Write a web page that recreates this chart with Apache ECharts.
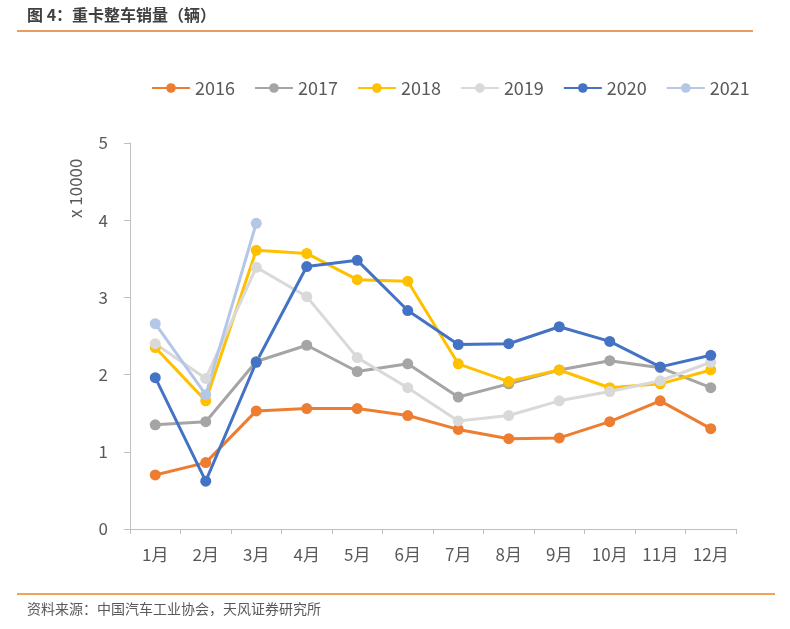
<!DOCTYPE html>
<html><head><meta charset="utf-8">
<script src="https://cdn.jsdelivr.net/npm/echarts@6/dist/echarts.min.js"></script>
<style>html,body{margin:0;padding:0;background:#fff}#c{width:790px;height:629px}</style>
</head><body><div id="c"></div>
<script>
const months = ['1月','2月','3月','4月','5月','6月','7月','8月','9月','10月','11月','12月'];
const s2016 = [0.70,0.86,1.53,1.56,1.56,1.47,1.29,1.17,1.18,1.39,1.66,1.30];
const s2017 = [1.35,1.39,2.17,2.38,2.04,2.14,1.71,1.88,2.06,2.18,2.09,1.83];
const s2018 = [2.35,1.66,3.61,3.57,3.23,3.21,2.14,1.91,2.06,1.83,1.88,2.06];
const s2019 = [2.40,1.95,3.39,3.01,2.22,1.83,1.40,1.47,1.66,1.78,1.92,2.16];
const s2020 = [1.96,0.62,2.16,3.40,3.48,2.83,2.39,2.40,2.62,2.43,2.10,2.25];
const s2021 = [2.66,1.74,3.96];
const seriesNames = ['2016','2017','2018','2019','2020','2021'];
const seriesData = [s2016,s2017,s2018,s2019,s2020,s2021];
const colors = ['#ED7D31','#A5A5A5','#FFC000','#D9D9D9','#4472C4','#B4C7E7'];

const chart = echarts.init(document.getElementById('c'));
const font = '"Noto Sans CJK SC", "Noto Sans", sans-serif';
chart.setOption({
  animation: false,
  color: colors,
  textStyle: {fontFamily: font},
  grid: {left: 130, right: 54, top: 143, bottom: 100, containLabel: false},
  legend: {
    top: 74, left: 146,
    itemWidth: 38, itemHeight: 12, itemGap: 19,
    textStyle: {fontSize: 18, color: '#595959', fontFamily: font},
    data: seriesNames
  },
  xAxis: {
    type: 'category', data: months, boundaryGap: true,
    axisLine: {lineStyle: {color: '#BFBFBF', width: 1}},
    axisTick: {show: true, length: 5, lineStyle: {color: '#BFBFBF'}},
    axisLabel: {fontSize: 17, color: '#595959', margin: 17}
  },
  yAxis: {
    type: 'value', min: 0, max: 5, interval: 1,
    axisLine: {show: true, lineStyle: {color: '#BFBFBF', width: 1}},
    axisTick: {show: true, length: 6, lineStyle: {color: '#BFBFBF'}},
    splitLine: {show: false},
    axisLabel: {fontSize: 17, color: '#595959', margin: 22}
  },
  graphic: [
    {type: 'text', left: 27, top: 7, style: {text: '图 4：重卡整车销量（辆）', font: 'bold 16px ' + font, fill: '#404040'}},
    {type: 'line', shape: {x1: 17, y1: 31, x2: 753, y2: 31}, style: {stroke: '#E07B2E', lineWidth: 1.5}},
    {type: 'line', shape: {x1: 17, y1: 594, x2: 775, y2: 594}, style: {stroke: '#F0801E', lineWidth: 1.5}},
    {type: 'text', left: 27, top: 602, style: {text: '资料来源：中国汽车工业协会，天风证券研究所', font: '14px ' + font, fill: '#595959'}},
    {type: 'text', x: 67, y: 218, rotation: Math.PI/2, style: {text: 'x 10000', font: '17px ' + font, fill: '#595959'}}
  ],
  series: seriesNames.map((n, i) => ({
    name: n, type: 'line', data: seriesData[i],
    symbol: 'circle', symbolSize: 11,
    lineStyle: {width: 3, color: colors[i]},
    itemStyle: {color: colors[i]}
  }))
});
</script>
</body></html>
